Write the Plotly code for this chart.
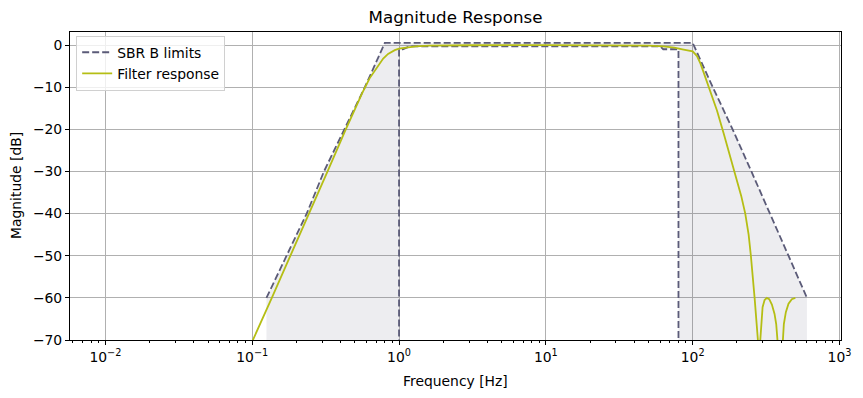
import plotly.graph_objects as go

# ---- data ----
upper_freq = [0.125, 0.172, 0.235, 0.308, 0.422, 0.585, 0.8, 100, 137, 187, 251, 334, 449, 600]
upper_db = [-60, -50, -40, -30, -20, -10, 0.5, 0.5, -10, -20, -30, -40, -50, -60]

lower_freq = [1, 1, 1.06, 1.18, 60, 63, 80, 80]
lower_db = [-100, -1, -1, -0.3, -0.3, -1, -1, -100]

resp_freq = [0.01, 0.102, 0.136, 0.182, 0.245, 0.326, 0.43, 0.50, 0.563, 0.63, 0.716,
             0.78, 0.842, 0.935, 1.0, 1.12, 1.3, 1.6, 2.0, 3.0, 10, 30, 50, 63, 75, 85,
             100, 107, 113, 119, 128.5, 146.5, 162.6, 180.6, 200, 214, 228, 240.4, 249,
             257.5, 264, 278, 283, 288.6, 293.0, 299.2, 308.7, 320.1, 332.0, 346.2,
             360.9, 370.4, 378.2, 394.5, 411.1, 417.6, 430.9, 449.3, 473.2, 500]
resp_db = [-148, -70, -60, -50, -40, -30, -20.3, -15.2, -11.3, -7.9, -4.9, -3.2, -2.1, -1.2,
           -0.85, -0.55, -0.3, -0.15, -0.08, -0.04, -0.03, -0.06, -0.15, -0.3, -0.6, -1.0,
           -1.5, -2.6, -4.4, -6.6, -10, -15.6, -21.0, -26.5, -32.0, -35.8, -40, -45, -50,
           -55, -60, -70, -110, -70, -65.4, -62.2, -60.5, -60.0, -60.3, -61.6,
           -63.8, -66.2, -70.2, -110, -70.2, -66.2, -63.4, -61.4, -60.3, -60.0]

x_tickvals = [0.01, 0.1, 1, 10, 100, 1000]
x_ticktext = ["10<sup>\u22122</sup>", "10<sup>\u22121</sup>", "10<sup>0</sup>",
              "10<sup>1</sup>", "10<sup>2</sup>", "10<sup>3</sup>"]
y_tickvals = [0, -10, -20, -30, -40, -50, -60, -70]
y_ticktext = ["0", "\u221210", "\u221220", "\u221230", "\u221240", "\u221250", "\u221260", "\u221270"]

LIM_COLOR = "#5b5b78"
RESP_COLOR = "#b5be14"
FONT = "DejaVu Sans"
FS = 13.9

# shaded area between upper and lower limit
poly_x = [upper_freq[0]] + upper_freq + [upper_freq[-1]] + lower_freq[::-1]
poly_y = [-100] + upper_db + [-100] + lower_db[::-1]

minor_vals = [m * 10.0 ** e for e in range(-3, 4) for m in range(2, 10)]

fig = go.Figure()
fig.add_trace(go.Scatter(x=poly_x, y=poly_y, mode="lines", fill="toself",
                         fillcolor="rgba(91,91,120,0.11)", line=dict(width=0),
                         showlegend=False, hoverinfo="skip"))
fig.add_trace(go.Scatter(x=upper_freq, y=upper_db, mode="lines", name="SBR B limits",
                         legendgroup="lim",
                         line=dict(color=LIM_COLOR, width=1.8, dash="7px,3px")))
fig.add_trace(go.Scatter(x=lower_freq, y=lower_db, mode="lines", name="SBR B limits",
                         legendgroup="lim", showlegend=False,
                         line=dict(color=LIM_COLOR, width=1.8, dash="7px,3px")))
fig.add_trace(go.Scatter(x=resp_freq, y=resp_db, mode="lines", name="Filter response",
                         line=dict(color=RESP_COLOR, width=1.8)))

fig.update_layout(
    width=863, height=398,
    margin=dict(l=70, r=20, t=32, b=58),
    paper_bgcolor="white", plot_bgcolor="white",
    font=dict(family=FONT, size=FS, color="black"),
    title=dict(text="Magnitude Response", x=0.5, xref="paper", y=1 - 17 / 398,
               yref="container", yanchor="middle", xanchor="center",
               font=dict(family=FONT, size=16.7, color="black")),
    legend=dict(x=0.008, y=0.988, xanchor="left", yanchor="top",
                bgcolor="rgba(255,255,255,0.8)", bordercolor="#d0d0d0", borderwidth=1,
                font=dict(family=FONT, size=FS), tracegroupgap=0, itemwidth=30),
    showlegend=True,
    annotations=[
        dict(text="Frequency [Hz]", x=0.5, y=0, xref="paper", yref="paper",
             xanchor="center", yanchor="middle", yshift=-41, showarrow=False,
             font=dict(family=FONT, size=FS)),
        dict(text="Magnitude [dB]", x=0, y=0.5, xref="paper", yref="paper",
             xanchor="center", yanchor="middle", xshift=-54, textangle=-90,
             showarrow=False, font=dict(family=FONT, size=FS)),
    ],
)
fig.update_xaxes(type="log", range=[-2.241, 3.01], tickvals=x_tickvals, ticktext=x_ticktext,
                 showgrid=True, gridcolor="#b0b0b0", gridwidth=0.8,
                 showline=True, linecolor="black", linewidth=1, mirror=True,
                 ticks="outside", ticklen=4, tickcolor="black", zeroline=False,
                 tickfont=dict(family=FONT, size=FS),
                 minor=dict(tickvals=minor_vals, ticks="outside", ticklen=2,
                            tickcolor="black", showgrid=False))
fig.update_yaxes(range=[-70, 3.1], tickvals=y_tickvals, ticktext=y_ticktext,
                 showgrid=True, gridcolor="#b0b0b0", gridwidth=0.8,
                 showline=True, linecolor="black", linewidth=1, mirror=True,
                 ticks="outside", ticklen=4, tickcolor="black", zeroline=False,
                 tickfont=dict(family=FONT, size=FS))

fig.write_html("out.html", post_script="document.body.style.margin='0';",
               config={"displayModeBar": False})
